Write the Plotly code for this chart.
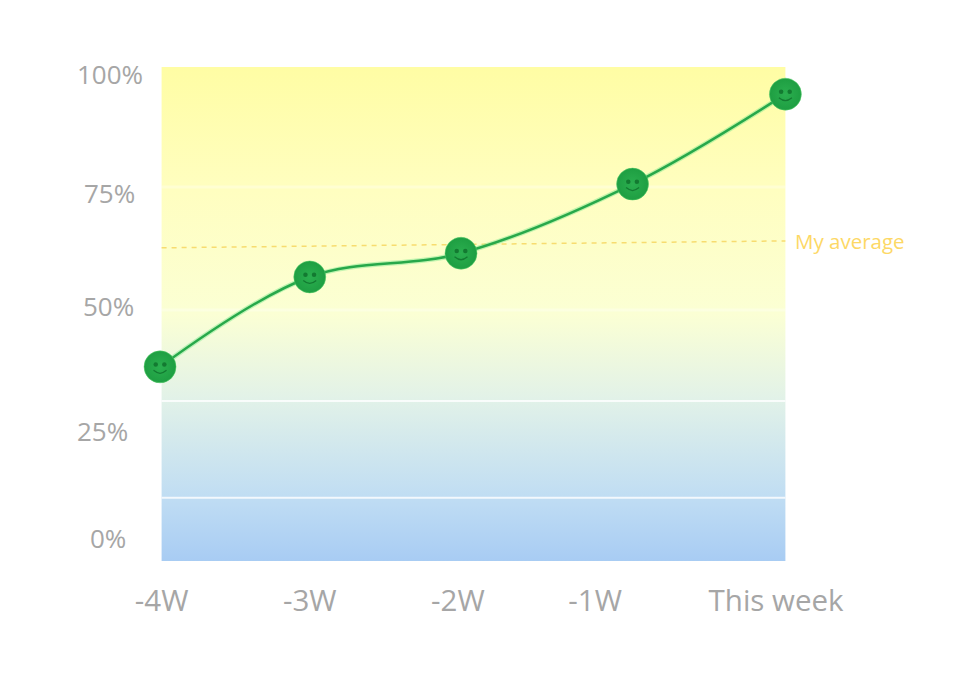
import plotly.graph_objects as go

# Data
week_labels = ["-4W", "-3W", "-2W", "-1W", "This week"]
week_positions = [-4.01, -3.05, -2.08, -0.98, 0.0]
score_values = [39.3, 57.5, 62.3, 76.3, 94.5]

x_tick_positions = [-4.0, -3.05, -2.1, -1.22, -0.06]

y_tick_labels = ["100%", "75%", "50%", "25%", "0%"]
y_label_positions = [98.6, 74.5, 51.6, 26.3, 4.7]
y_label_centres = [110, 110, 108.5, 102.5, 108.5]

average_x = [-4.0, 0.0]
average_y = [63.4, 64.8]
average_label = "My average"

strong_bands = [32.4, 12.8]
faint_bands = [75.7, 50.8]

gradient_stops = [
    [0.0, "#A8CCF3"],
    [0.13, "#C0DDF3"],
    [0.33, "#E2F2E8"],
    [0.5, "#FBFFD4"],
    [0.75, "#FFFEC0"],
    [1.0, "#FFFDA4"],
]

GREY = "#A6A6A6"
FONT = "Open Sans"

# Scale of the plot in pixels (for placing the face details round each marker)
PX_X = 155.75
PX_Y = 4.94
AX_MIN, AX_MAX = -4.1, 0.1
PAPER_LEFT = 162 - 0.1 * PX_X
PAPER_W = (AX_MAX - AX_MIN) * PX_X


def paper_x(px):
    return (px - PAPER_LEFT) / PAPER_W


fig = go.Figure()

# background gradient
fig.add_trace(go.Scatter(
    x=[-4, 0, 0, -4, -4], y=[0, 0, 100, 100, 0], mode="none", fill="toself",
    fillgradient=dict(type="vertical", colorscale=gradient_stops),
    hoverinfo="skip", showlegend=False,
))

for level in strong_bands:
    fig.add_trace(go.Scatter(x=[-4, 0], y=[level, level], mode="lines",
                             line=dict(color="rgba(255,255,255,0.8)", width=2),
                             hoverinfo="skip", showlegend=False))
for level in faint_bands:
    fig.add_trace(go.Scatter(x=[-4, 0], y=[level, level], mode="lines",
                             line=dict(color="rgba(255,255,255,0.3)", width=3),
                             hoverinfo="skip", showlegend=False))

# average
fig.add_trace(go.Scatter(x=average_x, y=average_y, mode="lines",
                         line=dict(color="#F7DC6F", width=1.5, dash="5px,5px"),
                         hoverinfo="skip", showlegend=False))

# halo + main curve
fig.add_trace(go.Scatter(x=week_positions, y=score_values, mode="lines",
                         line=dict(color="rgba(120,230,140,0.45)", width=5, shape="spline", smoothing=1),
                         hoverinfo="skip", showlegend=False, cliponaxis=False))
fig.add_trace(go.Scatter(
    x=week_positions, y=score_values, mode="lines+markers",
    line=dict(color="#27A84A", width=2.5, shape="spline", smoothing=1),
    marker=dict(size=32, color="#1E9E42", line=dict(color="rgba(90,210,110,0.5)", width=1),
                gradient=dict(type="radial", color="#2BAF4F")),
    hoverinfo="x+y", showlegend=False, cliponaxis=False,
))

# smiley faces: eyes and mouths
eye_x, eye_y, mouth_x, mouth_y = [], [], [], []
for wx, sv in zip(week_positions, score_values):
    eye_x += [wx - 4.3 / PX_X, wx + 4.3 / PX_X]
    eye_y += [sv + 2.3 / PX_Y, sv + 2.3 / PX_Y]
    mouth_x += [wx - 6.5 / PX_X, wx, wx + 6.5 / PX_X, None]
    mouth_y += [sv - 3.5 / PX_Y, sv - 6.5 / PX_Y, sv - 3.5 / PX_Y, None]
fig.add_trace(go.Scatter(x=eye_x, y=eye_y, mode="markers",
                         marker=dict(size=4.5, color="#137A31"),
                         hoverinfo="skip", showlegend=False, cliponaxis=False))
fig.add_trace(go.Scatter(x=mouth_x, y=mouth_y, mode="lines",
                         line=dict(color="#137A31", width=1.3, shape="spline", smoothing=1.3),
                         hoverinfo="skip", showlegend=False, cliponaxis=False))

annotations = []
for label, pos, cx in zip(y_tick_labels, y_label_positions, y_label_centres):
    annotations.append(dict(x=paper_x(cx), xref="paper", y=pos, yref="y", text=label,
                            showarrow=False, xanchor="center", yanchor="middle",
                            font=dict(family=FONT, size=26, color=GREY)))
annotations.append(dict(x=paper_x(785), xref="paper", y=average_y[1], yref="y", text=average_label,
                        showarrow=False, xanchor="left", xshift=8, yanchor="middle",
                        font=dict(family=FONT, size=20.5, color="#FDD865")))

fig.update_layout(
    width=950, height=684,
    margin=dict(l=PAPER_LEFT - 8, r=958 - (PAPER_LEFT + PAPER_W), t=59, b=131, autoexpand=False),
    paper_bgcolor="white", plot_bgcolor="white",
    showlegend=False,
    annotations=annotations,
    xaxis=dict(range=[AX_MIN, AX_MAX], tickmode="array", tickvals=x_tick_positions, ticktext=week_labels,
               showgrid=False, zeroline=False, showline=False, ticks="outside", ticklen=14,
               tickcolor="rgba(0,0,0,0)", tickfont=dict(family=FONT, size=29.5, color=GREY)),
    yaxis=dict(range=[0, 100], showticklabels=False, showgrid=False, zeroline=False, showline=False),
)

fig.write_html("out.html")
